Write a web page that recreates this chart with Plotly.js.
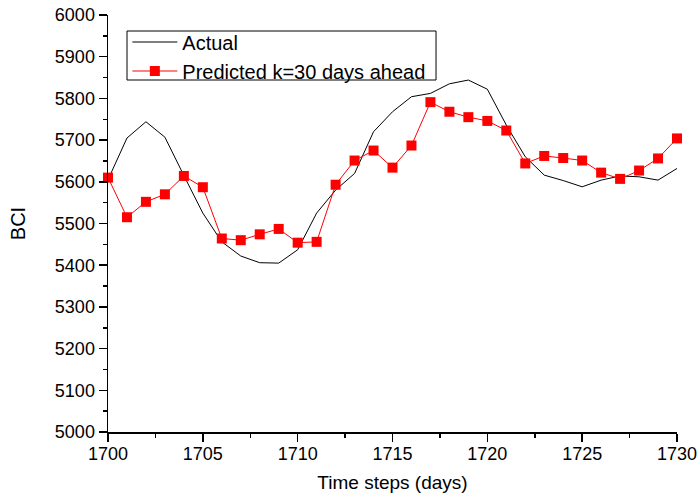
<!DOCTYPE html>
<html>
<head>
<meta charset="utf-8">
<script src="https://cdn.plot.ly/plotly-3.0.1.min.js"></script>
<style>html,body{margin:0;padding:0;background:#fff;}#chart{width:698px;height:499px;}</style>
</head>
<body>
<div id="chart"></div>
<script>
const days = [1700,1701,1702,1703,1704,1705,1706,1707,1708,1709,1710,1711,1712,1713,1714,1715,1716,1717,1718,1719,1720,1721,1722,1723,1724,1725,1726,1727,1728,1729,1730];
const actual = [5605,5705,5744,5707,5615,5525,5456,5422,5406,5405,5437,5525,5580,5620,5720,5768,5804,5812,5835,5844,5822,5736,5660,5616,5603,5588,5604,5614,5612,5604,5632];
const predicted = [5610,5515,5552,5570,5614,5587,5464,5460,5474,5487,5454,5456,5593,5651,5675,5634,5687,5791,5768,5755,5746,5723,5644,5662,5657,5651,5622,5607,5627,5656,5704];
const xTicks = [1700,1705,1710,1715,1720,1725,1730];
const yTicks = [5000,5100,5200,5300,5400,5500,5600,5700,5800,5900,6000];

const font = 'Liberation Sans, Arial, sans-serif';
const traces = [
  {x: days, y: actual, mode: 'lines', name: 'Actual', line: {color: '#000', width: 1}, cliponaxis: false},
  {x: days, y: predicted, mode: 'lines+markers', name: 'Predicted k=30 days ahead',
   line: {color: '#ff0000', width: 1}, marker: {symbol: 'square', size: 10, color: '#ff0000'}, cliponaxis: false}
];
const layout = {
  width: 698, height: 499,
  margin: {l: 108, r: 21, t: 15, b: 67},
  paper_bgcolor: '#fff', plot_bgcolor: '#fff',
  font: {family: font, color: '#000', size: 18},
  showlegend: true,
  legend: {x: 0.034, y: 0.982, xanchor: 'left', yanchor: 'top', bgcolor: 'rgba(0,0,0,0)', borderwidth: 0,
           font: {family: font, size: 20, color: '#000'}, tracegroupgap: 0, itemwidth: 45},
  shapes: [{type: 'rect', xref: 'paper', yref: 'paper', x0: 0.0334, x1: 0.5765, y0: 0.8441, y1: 0.9616,
            line: {color: '#000', width: 1}, fillcolor: 'rgba(0,0,0,0)', layer: 'above'}],
  xaxis: {range: [1700, 1730], tickvals: xTicks, ticktext: xTicks.map(String), showgrid: false, zeroline: false,
          showline: true, linecolor: '#000', linewidth: 1.5, ticks: 'outside', ticklen: 8, tickwidth: 1.5, tickcolor: '#000',
          ticklabelstandoff: -3,
          minor: {dtick: 2.5, tick0: 1700, ticks: 'outside', ticklen: 4, tickwidth: 1.5, tickcolor: '#000', showgrid: false},
          tickfont: {family: font, size: 18},
          title: {text: 'Time steps (days)', font: {family: font, size: 19}, standoff: 12}},
  yaxis: {range: [5000, 6000], tickvals: yTicks, ticktext: yTicks.map(String), showgrid: false, zeroline: false,
          showline: true, linecolor: '#000', linewidth: 1.5, ticks: 'outside', ticklen: 8, tickwidth: 1.5, tickcolor: '#000',
          minor: {dtick: 50, tick0: 5000, ticks: 'outside', ticklen: 4, tickwidth: 1.5, tickcolor: '#000', showgrid: false},
          tickfont: {family: font, size: 18},
          title: {text: 'BCI', font: {family: font, size: 20}, standoff: 24}}
};
Plotly.newPlot('chart', traces, layout, {displayModeBar: false, staticPlot: true});
</script>
</body>
</html>
